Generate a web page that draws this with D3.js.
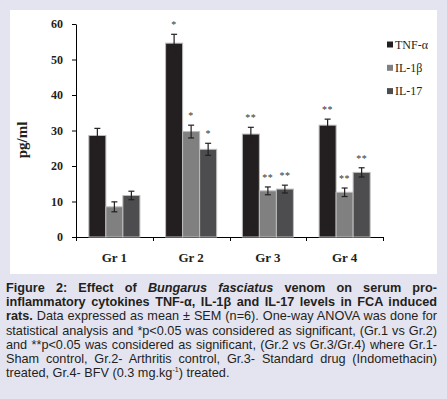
<!DOCTYPE html>
<html>
<head>
<meta charset="utf-8">
<script src="https://cdn.jsdelivr.net/npm/d3@7"></script>
<style>
  body { margin: 0; width: 447px; height: 399px; overflow: hidden; position: relative; background: #e4e4f1; }
  #chart { position: absolute; left: 0; top: 0; }
  #caption { position: absolute; left: 6px; top: 281px; width: 431px;
    font-family: "Liberation Sans", Arial, sans-serif; font-size: 12.7px; line-height: 14.2px; color: #231f20; }
  #caption div { text-align: justify; text-align-last: justify; white-space: nowrap; }
  #caption div.last { text-align-last: left; }
  #caption sup { font-size: 7px; line-height: 0; }
</style>
</head>
<body>
<svg id="chart" width="447" height="399"></svg>
<div id="caption"></div>
<script>
  // data
  const groups = ["Gr 1", "Gr 2", "Gr 3", "Gr 4"];
  const series = ["TNF-α", "IL-1β", "IL-17"];
  const tnf = [28.6, 54.6, 29.0, 31.5];
  const tnfSem = [2.0, 2.5, 1.9, 1.7];
  const il1b = [8.5, 29.7, 13.0, 12.6];
  const il1bSem = [1.4, 1.8, 1.1, 1.2];
  const il17 = [11.7, 24.7, 13.5, 18.2];
  const il17Sem = [1.2, 1.7, 1.1, 1.3];
  const signif = ["", "*", "**", "**"];
  const yTicks = [0, 10, 20, 30, 40, 50, 60];
  const colors = ["#231f20", "#808080", "#4d4d4f"];

  const captionLines = [
    '<b>Figure 2: Effect of <i>Bungarus fasciatus</i> venom on serum pro-</b>',
    '<b>inflammatory cytokines TNF-α, IL-1β and IL-17 levels in FCA induced</b>',
    '<b>rats.</b> Data expressed as mean ± SEM (n=6). One-way ANOVA was done for',
    'statistical analysis and *p&lt;0.05 was considered as significant, (Gr.1 vs Gr.2)',
    'and **p&lt;0.05 was considered as significant, (Gr.2 vs Gr.3/Gr.4) where Gr.1-',
    'Sham control, Gr.2- Arthritis control, Gr.3- Standard drug (Indomethacin)',
    'treated, Gr.4- BFV (0.3 mg.kg<sup>-1</sup>) treated.'
  ];

  const values = [tnf, il1b, il17];
  const sems = [tnfSem, il1bSem, il17Sem];
  const data = groups.map((g, i) => ({
    group: g,
    items: series.map((s, j) => ({ key: s, value: values[j][i], sem: sems[j][i], sig: signif[i], color: colors[j] }))
  }));

  const marginLeft = 76, marginRight = 64, marginTop = 24, zeroY = 237;
  const serif = "'Liberation Serif', 'Times New Roman', serif";

  const svg = d3.select("#chart");

  // white panel
  svg.append("rect")
    .attr("x", 10).attr("y", 10)
    .attr("width", 427).attr("height", 264)
    .attr("fill", "#ffffff");

  const x0 = d3.scaleBand()
    .domain(groups)
    .range([marginLeft, 447 - marginRight])
    .paddingInner(0.335)
    .paddingOuter(0.1675);

  const x1 = d3.scaleBand()
    .domain(series)
    .range([0, x0.bandwidth()]);

  const y = d3.scaleLinear()
    .domain([0, 60])
    .range([zeroY, marginTop]);

  // y axis
  const yAxis = svg.append("g")
    .attr("transform", `translate(${marginLeft},0)`)
    .call(d3.axisLeft(y).tickValues(yTicks).tickSize(4).tickSizeOuter(0).tickPadding(9));
  yAxis.selectAll("text")
    .attr("font-family", serif).attr("font-size", 12).attr("font-weight", "bold").attr("fill", "#231f20");

  // x axis: labels at centres, ticks between groups
  const xAxis = svg.append("g")
    .attr("transform", `translate(0,${zeroY})`)
    .call(d3.axisBottom(x0).tickSize(0).tickSizeOuter(0).tickPadding(16));
  xAxis.select(".domain").remove();
  xAxis.selectAll("text")
    .attr("font-family", serif).attr("font-size", 13).attr("font-weight", "bold").attr("fill", "#231f20");

  const half = (x0.step() - x0.bandwidth()) / 2;
  const bounds = groups.map(g => x0(g) - half).concat([x0(groups[groups.length - 1]) + x0.bandwidth() + half]);
  xAxis.append("line")
    .attr("x1", bounds[0]).attr("x2", bounds[bounds.length - 1])
    .attr("y1", 0.5).attr("y2", 0.5)
    .attr("stroke", "#000");
  xAxis.selectAll("line.btick")
    .data(bounds)
    .enter()
    .append("line")
    .attr("class", "btick")
    .attr("x1", d => Math.round(d) + 0.5).attr("x2", d => Math.round(d) + 0.5)
    .attr("y1", 0).attr("y2", 4)
    .attr("stroke", "#000");

  // bars
  const grp = svg.append("g")
    .selectAll("g")
    .data(data)
    .enter()
    .append("g")
    .attr("transform", d => `translate(${x0(d.group)},0)`);

  grp.selectAll("rect")
    .data(d => d.items)
    .enter()
    .append("rect")
    .attr("x", d => x1(d.key))
    .attr("y", d => y(d.value))
    .attr("width", x1.bandwidth())
    .attr("height", d => zeroY - y(d.value))
    .attr("fill", d => d.color)
    .attr("stroke", "#bdbdbd")
    .attr("stroke-width", 1);

  // error bars
  const eb = grp.selectAll("g.err")
    .data(d => d.items)
    .enter()
    .append("g")
    .attr("class", "err")
    .attr("stroke", "#231f20")
    .attr("stroke-width", 1.2);
  const cx = d => x1(d.key) + x1.bandwidth() / 2;
  eb.append("line")
    .attr("x1", cx).attr("x2", cx)
    .attr("y1", d => y(d.value - d.sem)).attr("y2", d => y(d.value + d.sem));
  eb.append("line")
    .attr("x1", d => cx(d) - 3).attr("x2", d => cx(d) + 3)
    .attr("y1", d => y(d.value + d.sem)).attr("y2", d => y(d.value + d.sem));
  eb.append("line")
    .attr("x1", d => cx(d) - 3).attr("x2", d => cx(d) + 3)
    .attr("y1", d => y(d.value - d.sem)).attr("y2", d => y(d.value - d.sem));

  // significance marks
  grp.selectAll("text.sig")
    .data(d => d.items)
    .enter()
    .append("text")
    .attr("class", "sig")
    .attr("x", cx)
    .attr("y", d => y(d.value + d.sem) - 6)
    .attr("text-anchor", "middle")
    .attr("font-family", serif)
    .attr("font-size", 10)
    .attr("letter-spacing", 0.5)
    .attr("fill", "#333")
    .text(d => d.sig);

  // y label
  svg.append("text")
    .attr("transform", "translate(27,140) rotate(-90)")
    .attr("text-anchor", "middle")
    .attr("font-family", serif)
    .attr("font-size", 15)
    .attr("font-weight", "bold")
    .attr("fill", "#231f20")
    .text("pg/ml");

  // legend
  const legend = svg.append("g")
    .selectAll("g")
    .data(series)
    .enter()
    .append("g")
    .attr("transform", (d, i) => `translate(387,${44.5 + i * 23.3})`);
  legend.append("rect")
    .attr("x", 0).attr("y", -3)
    .attr("width", 6).attr("height", 6)
    .attr("fill", (d, i) => colors[i]);
  legend.append("text")
    .attr("x", 8).attr("y", 0).attr("dy", "0.35em")
    .attr("font-family", serif)
    .attr("font-size", 12)
    .attr("fill", "#231f20")
    .text(d => d);

  // caption
  d3.select("#caption")
    .selectAll("div")
    .data(captionLines)
    .enter()
    .append("div")
    .attr("class", (d, i) => i === captionLines.length - 1 ? "last" : null)
    .html(d => d);
</script>
</body>
</html>
